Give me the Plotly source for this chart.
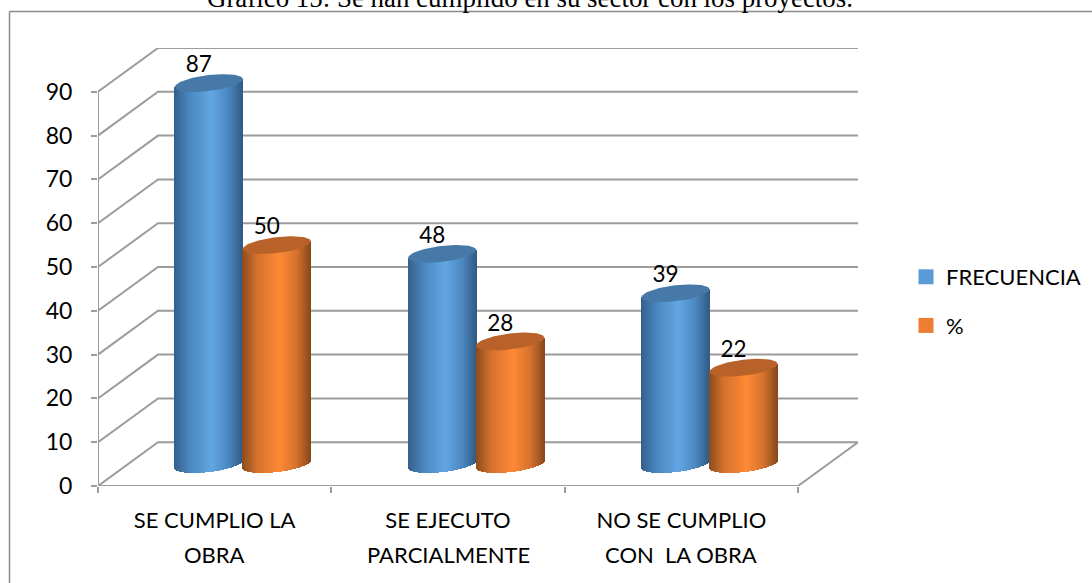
'''
    Grafico 15: cylinder style 3D column chart, drawn on a flat cartesian plot.
'''

import numpy as np
import plotly.graph_objects as go

CATEGORIES_TOP = ["SE CUMPLIO LA", "SE EJECUTO", "NO SE CUMPLIO"]
CATEGORIES_BOTTOM = ["OBRA", "PARCIALMENTE", "CON  LA OBRA"]
FRECUENCIA = [87, 48, 39]
PORCENTAJE = [50, 28, 22]
Y_TICKS = [0, 10, 20, 30, 40, 50, 60, 70, 80, 90]

TITLE = "Gráfico 15: Se han cumplido en su sector con los proyectos."
FONT = "Lato, Carlito, sans-serif"
GRID = "#9c9c9c"

# plot area in pixels, one category is 233.33 px and 10 y units are 43.8 px
WIDTH, HEIGHT = 1092, 583
LEFT, RIGHT, TOP, BOTTOM = 98, 858, 48, 486
X_RANGE = [-0.5, -0.5 + (RIGHT - LEFT) / 233.33]
Y_RANGE = [0, 100]
PX_X = (RIGHT - LEFT) / (X_RANGE[1] - X_RANGE[0])
PX_Y = (BOTTOM - TOP) / (Y_RANGE[1] - Y_RANGE[0])

# depth of the floor, the columns stand a little left of its middle
DEPTH_X = 60 / PX_X
DEPTH_Y = 10
COLUMN_SHIFT = DEPTH_X / 2 - 1.8 / PX_X


def mix(stops, t):
    '''
        Args:
            stops: list of (position, (r, g, b))
            t: position in the gradient
        Returns:
            The css color at t
    '''
    pos = [s[0] for s in stops]
    rgb = [np.interp(t, pos, [s[1][i] for s in stops]) for i in range(3)]
    return "rgb(%d,%d,%d)" % tuple(rgb)


BLUE_SHADE = [(0, (52, 96, 138)), (0.22, (74, 134, 190)), (0.55, (98, 167, 228)),
              (0.8, (76, 136, 192)), (1, (50, 92, 134))]
ORANGE_SHADE = [(0, (140, 76, 30)), (0.22, (212, 114, 46)), (0.55, (255, 138, 54)),
                (0.8, (214, 114, 46)), (1, (138, 74, 28))]
BLUE_CAP = "#4679a8"
ORANGE_CAP = "#b8622a"

RADIUS = 34 / PX_X
TILT = 3.9 / PX_Y
MINOR = 8 / PX_Y


def add_cylinders(fig, values, side, shades, cap):
    '''
        Adds one series as cylinders, each of them made of thin bars and a top ellipse.
    '''
    slices = np.linspace(-1, 1, 68, endpoint=False) + 1 / 68
    for i, value in enumerate(values):
        cx = i + COLUMN_SHIFT + side * RADIUS
        level = value + DEPTH_Y / 2
        low = DEPTH_Y / 2 + slices * TILT - np.sqrt(1 - slices ** 2) * MINOR
        fig.add_trace(go.Bar(
            x=cx + slices * RADIUS,
            y=level + slices * TILT - low,
            base=low,
            width=2 * RADIUS / 68,
            marker=dict(color=[mix(shades, (s + 1) / 2) for s in slices], line_width=0),
            hoverinfo="skip",
            showlegend=False))
        t = np.linspace(0, 2 * np.pi, 80)
        fig.add_trace(go.Scatter(
            x=cx + RADIUS * np.cos(t),
            y=level + TILT * np.cos(t) + MINOR * np.sin(t),
            mode="lines", fill="toself", fillcolor=cap,
            line=dict(width=0, color=cap),
            hoverinfo="skip", showlegend=False))


def add_labels(fig, values, side):
    fig.add_trace(go.Scatter(
        x=[i + COLUMN_SHIFT + side * RADIUS - 10 / PX_X for i in range(len(values))],
        y=[v + DEPTH_Y / 2 + 16.5 / PX_Y for v in values],
        text=[str(v) for v in values],
        mode="text", textposition="middle center",
        textfont=dict(family=FONT, size=22.5, color="black"),
        hoverinfo="skip", showlegend=False))


def wall_shapes():
    shapes = []
    line = dict(color=GRID, width=2)
    for y in Y_TICKS:
        path = "M %f %f L %f %f L %f %f" % (
            X_RANGE[0], y, X_RANGE[0] + DEPTH_X, y + DEPTH_Y, X_RANGE[1], y + DEPTH_Y)
        shapes.append(dict(type="path", path=path, xref="x", yref="y", line=line, layer="below"))
    # left wall, floor edge and its right side
    shapes.append(dict(type="line", x0=X_RANGE[0], x1=X_RANGE[0], y0=0, y1=Y_TICKS[-1],
                       xref="x", yref="y", line=line, layer="below"))
    shapes.append(dict(type="path", xref="x", yref="y", line=line, layer="below",
                       path="M %f 0 L 2.5 0 L %f %f" % (X_RANGE[0], X_RANGE[1], DEPTH_Y)))
    # chart border, only top and left are on the page
    bx = (9.5 - LEFT) / (RIGHT - LEFT)
    by = (BOTTOM - 11.5) / (BOTTOM - TOP)
    border = dict(color="#8c8c8c", width=1.5)
    shapes.append(dict(type="line", xref="paper", yref="paper", x0=bx, x1=bx, y0=by, y1=-1, line=border))
    shapes.append(dict(type="line", xref="paper", yref="paper", x0=bx, x1=2, y0=by, y1=by, line=border))
    return shapes


fig = go.Figure()
add_cylinders(fig, FRECUENCIA, -1, BLUE_SHADE, BLUE_CAP)
add_cylinders(fig, PORCENTAJE, 1, ORANGE_SHADE, ORANGE_CAP)
add_labels(fig, FRECUENCIA, -1)
add_labels(fig, PORCENTAJE, 1)

for name, color in (("FRECUENCIA", "#5b9bd5"), ("%", "#ed7d31")):
    fig.add_trace(go.Scatter(
        x=[None], y=[None], mode="markers", name=name, legendgroup=name,
        marker=dict(symbol="square", size=15, color=color)))

# the second row of the category labels sits further down than a <br> would put it
annotations = [dict(text=TITLE, xref="paper", yref="paper",
                    x=(530 - LEFT) / (RIGHT - LEFT), y=(BOTTOM - 15) / (BOTTOM - TOP),
                    xanchor="center", yanchor="bottom", showarrow=False,
                    font=dict(family="Liberation Serif", size=26.9, color="black"))]
for i, text in enumerate(CATEGORIES_BOTTOM):
    annotations.append(dict(text=text, x=i, xref="x", yref="paper", y=(BOTTOM - 554) / (BOTTOM - TOP),
                            xanchor="center", yanchor="middle", showarrow=False,
                            font=dict(family=FONT, size=22, color="black")))

fig.update_layout(
    width=WIDTH, height=HEIGHT,
    margin=dict(l=LEFT, r=WIDTH - RIGHT, t=TOP, b=HEIGHT - BOTTOM, autoexpand=False),
    paper_bgcolor="white", plot_bgcolor="rgba(0,0,0,0)",
    barmode="overlay", bargap=0,
    shapes=wall_shapes(),
    legend=dict(x=(906 - LEFT) / (RIGHT - LEFT), xanchor="left",
                y=(BOTTOM - 256) / (BOTTOM - TOP), yanchor="top",
                font=dict(family=FONT, size=22, color="black"),
                tracegroupgap=17, bgcolor="rgba(0,0,0,0)"),
    annotations=annotations)

fig.update_xaxes(
    range=X_RANGE, tickmode="array", tickvals=[0, 1, 2], ticktext=CATEGORIES_TOP,
    ticks="", showgrid=False, zeroline=False, showline=False, ticklabelstandoff=19,
    tickfont=dict(family=FONT, size=22, color="black"),
    minor=dict(tickmode="array", tickvals=[-0.5, 0.5, 1.5, 2.5], ticks="outside",
               ticklen=6, tickwidth=1.5, tickcolor=GRID, showgrid=False))
fig.update_yaxes(
    range=Y_RANGE, tickmode="array", tickvals=Y_TICKS,
    ticks="outside", ticklen=6, tickwidth=1.5, tickcolor=GRID,
    showgrid=False, zeroline=False, showline=False, ticklabelstandoff=14,
    tickfont=dict(family=FONT, size=23, color="black"))

fig.write_html("out.html", config=dict(displayModeBar=False),
               post_script="document.body.style.margin='0';document.body.style.overflow='hidden';")
